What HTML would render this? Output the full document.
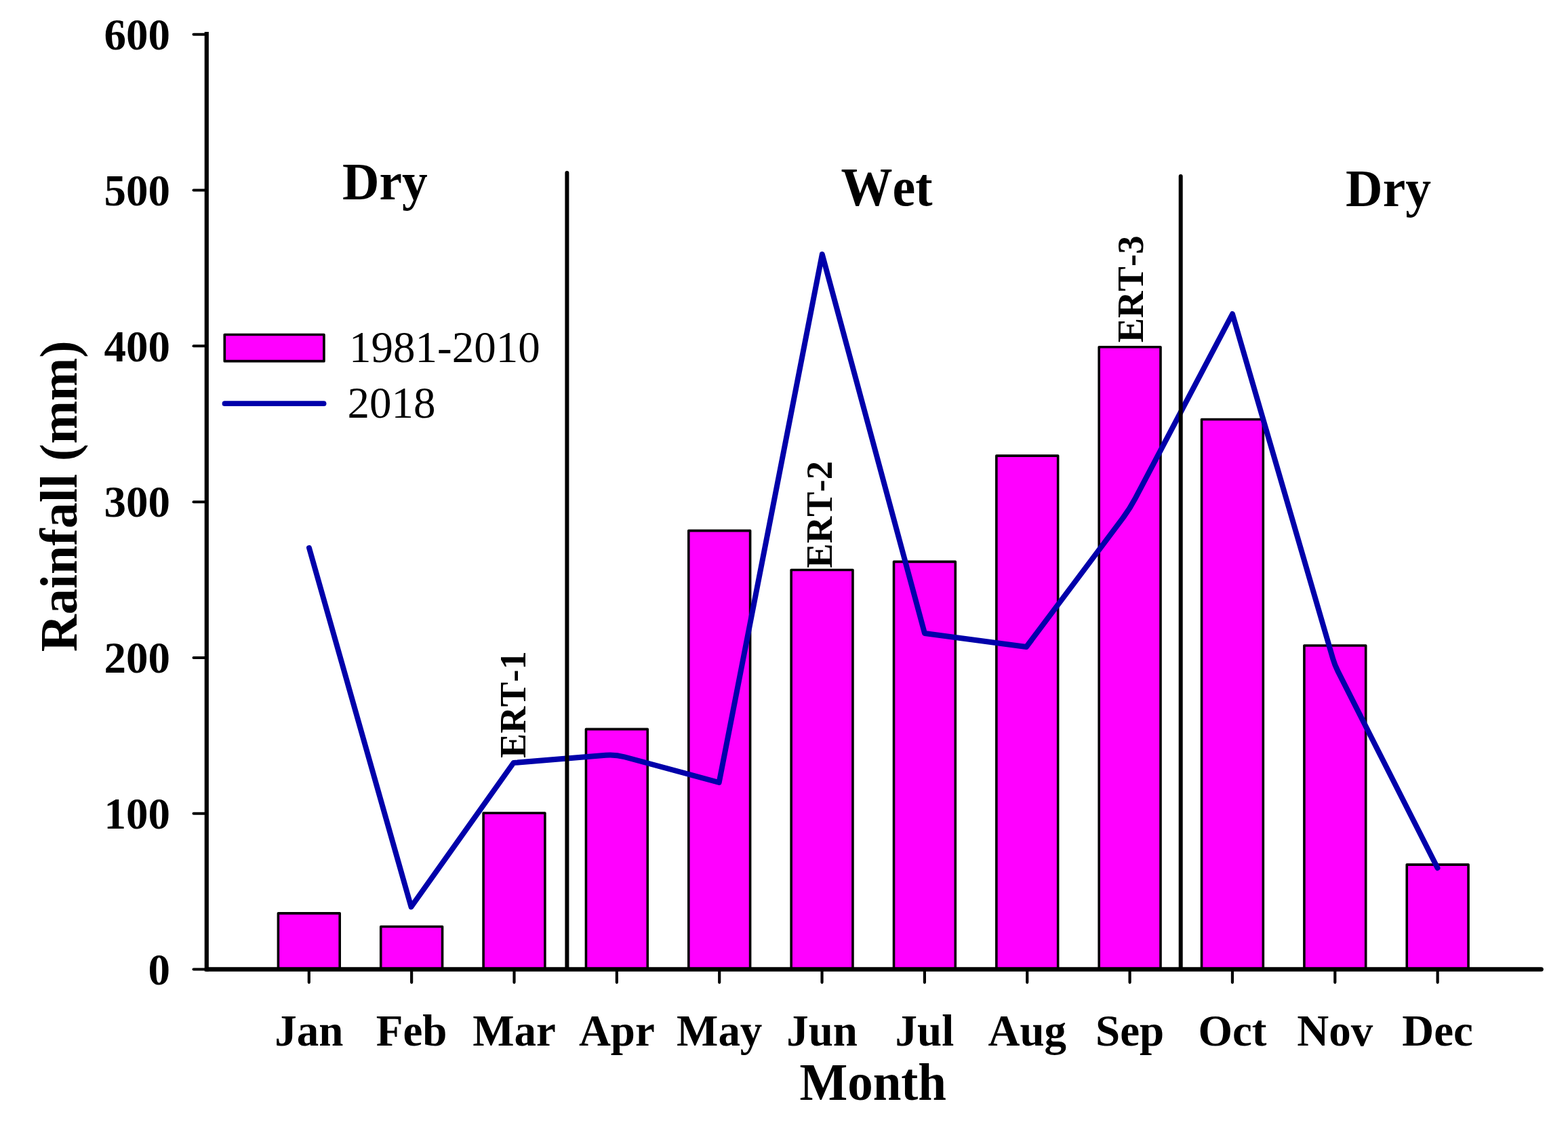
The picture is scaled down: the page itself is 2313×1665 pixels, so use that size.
<!DOCTYPE html>
<html><head><meta charset="utf-8"><title>Rainfall chart</title>
<style>html,body{margin:0;padding:0;background:#fff;width:2313px;height:1665px;overflow:hidden}svg{display:block}text{font-kerning:none;font-feature-settings:'kern' 0}</style>
</head><body>
<svg width="2313" height="1665" viewBox="0 0 2313 1665">
<rect x="0" y="0" width="2313" height="1665" fill="#ffffff"/>
<rect x="410.40" y="1346.90" width="90.80" height="82.60" fill="#ff00ff" stroke="#000" stroke-width="3.6" stroke-linejoin="round"/>
<rect x="561.75" y="1366.50" width="90.80" height="63.00" fill="#ff00ff" stroke="#000" stroke-width="3.6" stroke-linejoin="round"/>
<rect x="713.10" y="1199.00" width="90.80" height="230.50" fill="#ff00ff" stroke="#000" stroke-width="3.6" stroke-linejoin="round"/>
<rect x="864.45" y="1075.40" width="90.80" height="354.10" fill="#ff00ff" stroke="#000" stroke-width="3.6" stroke-linejoin="round"/>
<rect x="1015.80" y="782.60" width="90.80" height="646.90" fill="#ff00ff" stroke="#000" stroke-width="3.6" stroke-linejoin="round"/>
<rect x="1167.15" y="840.50" width="90.80" height="589.00" fill="#ff00ff" stroke="#000" stroke-width="3.6" stroke-linejoin="round"/>
<rect x="1318.50" y="828.40" width="90.80" height="601.10" fill="#ff00ff" stroke="#000" stroke-width="3.6" stroke-linejoin="round"/>
<rect x="1469.85" y="672.10" width="90.80" height="757.40" fill="#ff00ff" stroke="#000" stroke-width="3.6" stroke-linejoin="round"/>
<rect x="1621.20" y="511.80" width="90.80" height="917.70" fill="#ff00ff" stroke="#000" stroke-width="3.6" stroke-linejoin="round"/>
<rect x="1772.55" y="618.50" width="90.80" height="811.00" fill="#ff00ff" stroke="#000" stroke-width="3.6" stroke-linejoin="round"/>
<rect x="1923.90" y="952.00" width="90.80" height="477.50" fill="#ff00ff" stroke="#000" stroke-width="3.6" stroke-linejoin="round"/>
<rect x="2075.25" y="1275.10" width="90.80" height="154.40" fill="#ff00ff" stroke="#000" stroke-width="3.6" stroke-linejoin="round"/>
<path d="M456.00,808.00L606.50,1337.50L757.50,1125.00L893.55,1113.75Q907.50,1112.60 921.02,1116.25L1060.70,1154.00L1212.80,375.00L1364.00,934.00L1514.00,954.00L1655.71,764.90Q1666.50,750.50 1674.89,734.58L1818.00,463.00L1966.20,971.40Q1969.00,981.00 1973.52,989.92L2120.50,1280.00" fill="none" stroke="#0000aa" stroke-width="8" stroke-linejoin="round" stroke-linecap="round"/>
<line x1="836.4" y1="255" x2="836.4" y2="1429" stroke="#000" stroke-width="6" stroke-linecap="round"/>
<line x1="1741.7" y1="260" x2="1741.7" y2="1429" stroke="#000" stroke-width="6" stroke-linecap="round"/>
<line x1="304.8" y1="50" x2="304.8" y2="1429.5" stroke="#000" stroke-width="6.2" stroke-linecap="square"/>
<line x1="304.8" y1="1429.5" x2="2273.5" y2="1429.5" stroke="#000" stroke-width="6.6" stroke-linecap="round"/>
<line x1="285.5" y1="1429.50" x2="304.8" y2="1429.50" stroke="#000" stroke-width="4" stroke-linecap="round"/>
<text x="251" y="1451.70" text-anchor="end" font-family="'Liberation Serif', 'Times New Roman', serif" font-weight="bold" font-size="65">0</text>
<line x1="285.5" y1="1199.72" x2="304.8" y2="1199.72" stroke="#000" stroke-width="4" stroke-linecap="round"/>
<text x="251" y="1221.92" text-anchor="end" font-family="'Liberation Serif', 'Times New Roman', serif" font-weight="bold" font-size="65">100</text>
<line x1="285.5" y1="969.93" x2="304.8" y2="969.93" stroke="#000" stroke-width="4" stroke-linecap="round"/>
<text x="251" y="992.13" text-anchor="end" font-family="'Liberation Serif', 'Times New Roman', serif" font-weight="bold" font-size="65">200</text>
<line x1="285.5" y1="740.15" x2="304.8" y2="740.15" stroke="#000" stroke-width="4" stroke-linecap="round"/>
<text x="251" y="762.35" text-anchor="end" font-family="'Liberation Serif', 'Times New Roman', serif" font-weight="bold" font-size="65">300</text>
<line x1="285.5" y1="510.37" x2="304.8" y2="510.37" stroke="#000" stroke-width="4" stroke-linecap="round"/>
<text x="251" y="532.57" text-anchor="end" font-family="'Liberation Serif', 'Times New Roman', serif" font-weight="bold" font-size="65">400</text>
<line x1="285.5" y1="280.58" x2="304.8" y2="280.58" stroke="#000" stroke-width="4" stroke-linecap="round"/>
<text x="251" y="302.78" text-anchor="end" font-family="'Liberation Serif', 'Times New Roman', serif" font-weight="bold" font-size="65">500</text>
<line x1="285.5" y1="50.80" x2="304.8" y2="50.80" stroke="#000" stroke-width="4" stroke-linecap="round"/>
<text x="251" y="73.00" text-anchor="end" font-family="'Liberation Serif', 'Times New Roman', serif" font-weight="bold" font-size="65">600</text>
<line x1="455.80" y1="1429.5" x2="455.80" y2="1448.8" stroke="#000" stroke-width="4.2" stroke-linecap="round"/>
<text transform="translate(455.80 1542) scale(1 1.02)" text-anchor="middle" font-family="'Liberation Serif', 'Times New Roman', serif" font-weight="bold" font-size="65">Jan</text>
<line x1="607.15" y1="1429.5" x2="607.15" y2="1448.8" stroke="#000" stroke-width="4.2" stroke-linecap="round"/>
<text transform="translate(607.15 1542) scale(1 1.02)" text-anchor="middle" font-family="'Liberation Serif', 'Times New Roman', serif" font-weight="bold" font-size="65">Feb</text>
<line x1="758.50" y1="1429.5" x2="758.50" y2="1448.8" stroke="#000" stroke-width="4.2" stroke-linecap="round"/>
<text transform="translate(758.50 1542) scale(1 1.02)" text-anchor="middle" font-family="'Liberation Serif', 'Times New Roman', serif" font-weight="bold" font-size="65">Mar</text>
<line x1="909.85" y1="1429.5" x2="909.85" y2="1448.8" stroke="#000" stroke-width="4.2" stroke-linecap="round"/>
<text transform="translate(909.85 1542) scale(1 1.02)" text-anchor="middle" font-family="'Liberation Serif', 'Times New Roman', serif" font-weight="bold" font-size="65">Apr</text>
<line x1="1061.20" y1="1429.5" x2="1061.20" y2="1448.8" stroke="#000" stroke-width="4.2" stroke-linecap="round"/>
<text transform="translate(1061.20 1542) scale(1 1.02)" text-anchor="middle" font-family="'Liberation Serif', 'Times New Roman', serif" font-weight="bold" font-size="65">May</text>
<line x1="1212.55" y1="1429.5" x2="1212.55" y2="1448.8" stroke="#000" stroke-width="4.2" stroke-linecap="round"/>
<text transform="translate(1212.55 1542) scale(1 1.02)" text-anchor="middle" font-family="'Liberation Serif', 'Times New Roman', serif" font-weight="bold" font-size="65">Jun</text>
<line x1="1363.90" y1="1429.5" x2="1363.90" y2="1448.8" stroke="#000" stroke-width="4.2" stroke-linecap="round"/>
<text transform="translate(1363.90 1542) scale(1 1.02)" text-anchor="middle" font-family="'Liberation Serif', 'Times New Roman', serif" font-weight="bold" font-size="65">Jul</text>
<line x1="1515.25" y1="1429.5" x2="1515.25" y2="1448.8" stroke="#000" stroke-width="4.2" stroke-linecap="round"/>
<text transform="translate(1515.25 1542) scale(1 1.02)" text-anchor="middle" font-family="'Liberation Serif', 'Times New Roman', serif" font-weight="bold" font-size="65">Aug</text>
<line x1="1666.60" y1="1429.5" x2="1666.60" y2="1448.8" stroke="#000" stroke-width="4.2" stroke-linecap="round"/>
<text transform="translate(1666.60 1542) scale(1 1.02)" text-anchor="middle" font-family="'Liberation Serif', 'Times New Roman', serif" font-weight="bold" font-size="65">Sep</text>
<line x1="1817.95" y1="1429.5" x2="1817.95" y2="1448.8" stroke="#000" stroke-width="4.2" stroke-linecap="round"/>
<text transform="translate(1817.95 1542) scale(1 1.02)" text-anchor="middle" font-family="'Liberation Serif', 'Times New Roman', serif" font-weight="bold" font-size="65">Oct</text>
<line x1="1969.30" y1="1429.5" x2="1969.30" y2="1448.8" stroke="#000" stroke-width="4.2" stroke-linecap="round"/>
<text transform="translate(1969.30 1542) scale(1 1.02)" text-anchor="middle" font-family="'Liberation Serif', 'Times New Roman', serif" font-weight="bold" font-size="65">Nov</text>
<line x1="2120.65" y1="1429.5" x2="2120.65" y2="1448.8" stroke="#000" stroke-width="4.2" stroke-linecap="round"/>
<text transform="translate(2120.65 1542) scale(1 1.02)" text-anchor="middle" font-family="'Liberation Serif', 'Times New Roman', serif" font-weight="bold" font-size="65">Dec</text>
<text transform="translate(1287.7 1621.9) scale(1 1.045)" text-anchor="middle" font-family="'Liberation Serif', 'Times New Roman', serif" font-weight="bold" font-size="75">Month</text>
<text transform="translate(112.8 731.8) rotate(-90) scale(1 1.032)" text-anchor="middle" font-family="'Liberation Serif', 'Times New Roman', serif" font-weight="bold" font-size="76.15">Rainfall (mm)</text>
<text transform="translate(567.9 294.4) scale(1 1.04)" text-anchor="middle" font-family="'Liberation Serif', 'Times New Roman', serif" font-weight="bold" font-size="75.5">Dry</text>
<text transform="translate(1308 302.8) scale(1 1.06)" text-anchor="middle" font-family="'Liberation Serif', 'Times New Roman', serif" font-weight="bold" font-size="76">Wet</text>
<text transform="translate(2048 303.8) scale(1 1.048)" text-anchor="middle" font-family="'Liberation Serif', 'Times New Roman', serif" font-weight="bold" font-size="75.5">Dry</text>
<text transform="translate(774.9 1117.0) rotate(-90)" x="-1" y="0" font-family="'Liberation Serif', 'Times New Roman', serif" font-weight="bold" font-size="54.6">ERT-1</text>
<text transform="translate(1226.9 836.7) rotate(-90)" x="-1" y="0" font-family="'Liberation Serif', 'Times New Roman', serif" font-weight="bold" font-size="54.6">ERT-2</text>
<text transform="translate(1685.8 504.3) rotate(-90)" x="-1" y="0" font-family="'Liberation Serif', 'Times New Roman', serif" font-weight="bold" font-size="54.6">ERT-3</text>
<rect x="331.3" y="493.5" width="146.6" height="39.2" fill="#ff00ff" stroke="#000" stroke-width="3.7" stroke-linejoin="round"/>
<line x1="331.5" y1="595.2" x2="477.6" y2="595.2" stroke="#0000aa" stroke-width="7.7" stroke-linecap="round"/>
<text x="515" y="533.9" font-family="'Liberation Serif', 'Times New Roman', serif" font-size="65">1981-2010</text>
<text x="512.5" y="616" font-family="'Liberation Serif', 'Times New Roman', serif" font-size="65">2018</text>
</svg>
</body></html>
